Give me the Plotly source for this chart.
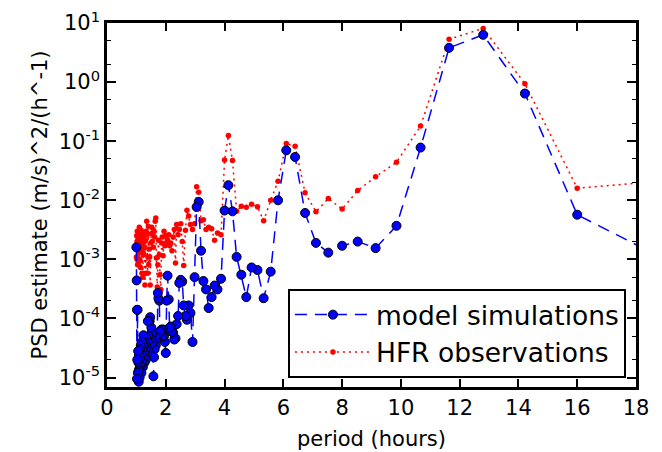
import plotly.graph_objects as go

# period (hours) of each spectral estimate
period = [18.29, 16.00, 14.22, 12.80, 11.64, 10.67, 9.85, 9.14, 8.53, 8.00,
          7.53, 7.11, 6.74, 6.40, 6.10, 5.82, 5.57, 5.33, 5.12, 4.92,
          4.74, 4.57, 4.41, 4.27, 4.13, 4.00, 3.88, 3.76, 3.66, 3.56,
          3.46, 3.37, 3.28, 3.20, 3.12, 3.05, 2.98, 2.91, 2.84, 2.78,
          2.72, 2.67, 2.61, 2.56, 2.51, 2.46, 2.42, 2.37, 2.33, 2.29,
          2.25, 2.21, 2.17, 2.13, 2.10, 2.06, 2.03, 2.00, 1.97, 1.94,
          1.91, 1.88, 1.86, 1.83, 1.80, 1.78, 1.75, 1.73, 1.71, 1.68,
          1.66, 1.64, 1.62, 1.60, 1.58, 1.56, 1.54, 1.52, 1.51, 1.49,
          1.47, 1.45, 1.44, 1.42, 1.41, 1.39, 1.38, 1.36, 1.35, 1.33,
          1.32, 1.31, 1.29, 1.28, 1.27, 1.25, 1.24, 1.23, 1.22, 1.21,
          1.20, 1.19, 1.17, 1.16, 1.15, 1.14, 1.13, 1.12, 1.11, 1.10,
          1.09, 1.08, 1.08, 1.07, 1.06, 1.05, 1.04, 1.03, 1.02, 1.02,
          1.01, 1.00]

model_psd = [0.0015, 0.0057, 0.64, 6.3, 3.8, 0.078, 0.0037, 0.00155, 0.0020, 0.0017,
             0.0013, 0.0019, 0.0061, 0.054, 0.070, 0.010, 0.00062, 0.00022, 0.00066, 0.00073,
             0.00023, 0.00055, 0.0011, 0.0065, 0.018, 0.0067, 0.00047, 0.00031, 0.00036, 0.00023,
             0.00015, 0.00031, 0.00043, 0.0014, 0.0094, 0.0077, 0.00050, 0.000040, 0.000124, 0.000166,
             0.000095, 0.00011, 0.000166, 0.00042, 0.00045, 0.00040, 0.00011, 0.00008, 0.000046, 0.000044,
             0.000057, 0.000060, 0.000073, 0.000070, 0.00021, 0.00053, 0.00020, 0.000026, 0.000040, 0.000050,
             0.000065, 0.000050, 0.000065, 0.000060, 0.000060, 0.00020, 0.00022, 0.00027, 0.000046, 0.000044,
             0.000035, 0.000050, 0.000030, 0.000022, 0.0000105, 0.000040, 0.000055, 0.000038, 0.000070, 0.000045,
             0.000105, 0.000090, 0.000035, 0.000028, 0.000050, 0.000090, 0.000042, 0.000025, 0.000033, 0.000048,
             0.000020, 0.000030, 0.000040, 0.000018, 0.000026, 0.000035, 0.000052, 0.000022, 0.000015, 0.000030,
             0.000040, 0.000018, 0.000012, 0.000025, 0.000035, 0.000016, 0.000022, 0.000030, 0.000010, 0.000014,
             0.000024, 0.000013, 0.0000085, 0.000018, 0.000028, 0.000012, 0.00014, 0.000020, 0.0000095, 0.00014,
             0.00044, 0.0016]

hfr_psd = [0.020, 0.016, 0.94, 8.1, 5.3, 0.18, 0.044, 0.025, 0.0146, 0.0071,
           0.0107, 0.0064, 0.0134, 0.082, 0.091, 0.021, 0.010, 0.0045, 0.0078, 0.0086,
           0.0076, 0.0079, 0.0065, 0.047, 0.125, 0.048, 0.0026, 0.0028, 0.0021, 0.0033,
           0.0035, 0.0032, 0.0047, 0.0045, 0.0137, 0.017, 0.0040, 0.0032, 0.0039, 0.0054,
           0.0068, 0.0031, 0.00079, 0.0020, 0.0040, 0.0032, 0.0026, 0.0039, 0.00087, 0.0032,
           0.0024, 0.0014, 0.0019, 0.0017, 0.0026, 0.0021, 0.0018, 0.0025, 0.0017, 0.0030,
           0.00115, 0.0024, 0.0019, 0.00031, 0.00055, 0.0012, 0.0021, 0.00081, 0.00034, 0.00105,
           0.0050, 0.0044, 0.0024, 0.0030, 0.0016, 0.0028, 0.0020, 0.0035, 0.0027, 0.0019,
           0.00037, 0.0011, 0.0015, 0.00081, 0.0036, 0.0011, 0.00058, 0.0026, 0.0044, 0.0030,
           0.00058, 0.0021, 0.00037, 0.0016, 0.0028, 0.0012, 0.0025, 0.0013, 0.0005, 0.0019,
           0.0024, 0.00058, 0.0015, 0.0031, 0.0020, 0.00073, 0.0027, 0.0018, 0.0010, 0.0035,
           0.0022, 0.0013, 0.0029, 0.0009, 0.0022, 0.0017, 0.00081, 0.0030, 0.0020, 0.0010,
           0.0025, 0.0011]

x_ticks = [0, 2, 4, 6, 8, 10, 12, 14, 16, 18]
y_exponents = [-5, -4, -3, -2, -1, 0, 1]
y_tickvals = [10.0 ** e for e in y_exponents]
y_ticktext = ["10<sup>%d</sup>" % e for e in y_exponents]

FONT = "DejaVu Sans"

fig = go.Figure()
fig.add_trace(go.Scatter(
    x=period, y=hfr_psd, name="HFR observations", mode="lines+markers",
    legendrank=2,
    line=dict(color="#ff0000", width=1.5, dash="2px,4px"),
    marker=dict(color="#ff0000", size=5.5, line=dict(width=0)),
))
fig.add_trace(go.Scatter(
    x=period, y=model_psd, name="model simulations", mode="lines+markers",
    legendrank=1,
    line=dict(color="#0000ff", width=1.5, dash="12px,8px"),
    marker=dict(color="#0000ff", size=9, line=dict(color="black", width=1)),
))

axis_common = dict(
    showgrid=False, zeroline=False, showline=True, linecolor="black", linewidth=2.5,
    mirror="allticks", ticks="inside", tickcolor="black", tickwidth=1.5,
    tickfont=dict(family=FONT, size=21, color="black"), automargin=False,
)

fig.update_xaxes(
    range=[0, 18], tickvals=x_ticks, ticklen=8,
    title=dict(text="period (hours)", font=dict(family=FONT, size=21, color="black"), standoff=13),
    **axis_common,
)
fig.update_yaxes(
    type="log", range=[-5.16, 1], tickvals=y_tickvals, ticktext=y_ticktext, ticklen=9,
    minor=dict(ticks="inside", ticklen=4, tickcolor="black", tickwidth=1),
    title=dict(text="PSD estimate (m/s)^2/(h^-1)", font=dict(family=FONT, size=21, color="black"), standoff=6),
    **axis_common,
)

fig.update_layout(
    width=662, height=452,
    margin=dict(l=107, r=26, t=23, b=65),
    paper_bgcolor="white", plot_bgcolor="white",
    showlegend=True,
    legend=dict(
        x=0.981, y=0.025, xanchor="right", yanchor="bottom",
        bgcolor="white", bordercolor="black", borderwidth=2,
        font=dict(family=FONT, size=26.5, color="black"),
        traceorder="normal", itemwidth=76,
    ),
)

fig.write_html("out.html")
